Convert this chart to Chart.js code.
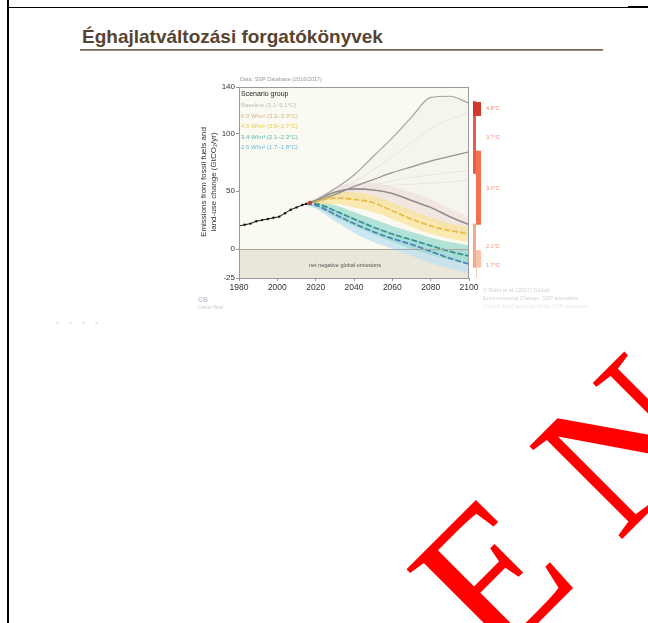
<!DOCTYPE html>
<html>
<head>
<meta charset="utf-8">
<script src="https://cdn.jsdelivr.net/npm/chart.js@4.4.1/dist/chart.umd.min.js"></script>
<style>
  body { margin: 0; width: 648px; height: 623px; overflow: hidden; background: #fff; position: relative; font-family: "Liberation Sans", Arial, sans-serif; }
  .ln { position: absolute; background: #000; }
  #title { position: absolute; left: 82px; top: 26px; font-size: 19px; font-weight: bold; color: #574430; white-space: nowrap; }
  #rule { position: absolute; left: 80px; top: 49px; width: 523px; height: 2px; background: linear-gradient(#6b5a48, #a89888); }
  #chart { position: absolute; left: 160px; top: 70px; }
  #dots { position: absolute; left: 56px; top: 318px; font-size: 8px; color: #e2e2e2; letter-spacing: 4px; }
  #wm { position: absolute; left: 0; top: 0; pointer-events: none; }
</style>
</head>
<body>
<div class="ln" style="left:7px;top:0;width:2px;height:623px"></div>
<div class="ln" style="left:7px;top:7px;width:621px;height:1px"></div>
<div class="ln" style="left:628px;top:6px;width:20px;height:2px"></div>
<div id="title">Éghajlatváltozási forgatókönyvek</div>
<div id="rule"></div>
<canvas id="chart" width="460" height="250"></canvas>
<div id="dots">• • • •</div>
<canvas id="wm" width="648" height="623"></canvas>
<script>
// data (GtCO2/yr)
const histYears = [1980, 1983, 1986, 1989, 1992, 1995, 1998, 2001, 2004, 2007, 2010, 2013, 2015];
const histValues = [20, 21, 22, 24, 25, 26, 27, 28, 31, 34, 36, 38, 39];

const scenYears = [2015, 2020, 2030, 2040, 2050, 2060, 2070, 2080, 2090, 2100];
const baseHigh = [39, 42, 52, 64, 80, 96, 114, 131, 132, 126];
const baseMid = [39, 41, 47, 54, 60, 66, 71, 76, 80, 84];
const baseThin1 = [39, 41, 49, 58, 68, 80, 92, 104, 112, 118];
const baseThin2 = [39, 41, 46, 51, 55, 59, 62, 64, 66, 68];
const baseThin3 = [39, 40, 45, 50, 53, 55, 56, 57, 58, 60];

const w60 = [39, 42, 49, 52, 51, 48, 42, 36, 28, 21];
const w60High = [40, 44, 53, 57, 57, 54, 49, 43, 35, 28];
const w60Low = [38, 40, 44, 44, 41, 36, 30, 24, 17, 12];

const w45 = [39, 41, 44, 43, 40, 33, 26, 20, 16, 13];
const w45High = [40, 43, 49, 49, 46, 40, 33, 27, 22, 19];
const w45Low = [38, 38, 39, 36, 32, 26, 19, 13, 9, 6];

const w34 = [39, 39, 33, 26, 19, 13, 8, 3, -2, -6];
const w34High = [40, 41, 38, 32, 26, 20, 15, 10, 6, 3];
const w34Low = [38, 36, 28, 20, 13, 6, 0, -5, -9, -12];

const w26 = [39, 38, 30, 22, 15, 9, 4, -2, -8, -13];
const w26High = [40, 40, 34, 27, 20, 14, 9, 4, 0, -3];
const w26Low = [38, 35, 24, 14, 6, 0, -6, -12, -17, -21];

const nowYear = [2017];
const nowValue = [40];

const xTicks = [1980, 2000, 2020, 2040, 2060, 2080, 2100];
const yTicks = [-25, 0, 50, 100, 140];

const groupNames = ['Baseline (3.1–5.1°C)', '6.0 W/m² (3.2–3.3°C)', '4.5 W/m² (2.5–2.7°C)', '3.4 W/m² (2.1–2.3°C)', '2.6 W/m² (1.7–1.8°C)'];

// 2100 ranges shown as bars right of the plot
const rangeLow = [65, 115, 21, -16, -16];
const rangeHigh = [128, 127, 85, 22, -1];
const rangeLabels = ['4.8°C', '3.7°C', '3.0°C', '2.1°C', '1.7°C'];
const rangeLabelAt = [122, 97, 53, 3, -14];

// styles
const groupColors = ['#bcbcbc', '#cdb483', '#e6c84a', '#52b5a5', '#68b2d8'];
const rangeColors = ['#ec5d45', '#d2392c', '#f2714f', '#f7a98b', '#f9c3a8'];
const rangeCols = [[473, 476], [473, 481], [476, 481], [473, 476], [476, 481]];

function pts(xs, ys) {
  return xs.map((x, i) => ({ x: x, y: ys[i] }));
}

const datasets = [];
function band(upper, lower, color, order) {
  const li = datasets.length;
  datasets.push({ data: pts(scenYears, lower), borderWidth: 0, pointRadius: 0, fill: false, order: order, cubicInterpolationMode: 'monotone' });
  datasets.push({ data: pts(scenYears, upper), borderWidth: 0, pointRadius: 0, backgroundColor: color, fill: { target: li }, order: order, cubicInterpolationMode: 'monotone' });
}
function line(vals, color, width, dash, order) {
  datasets.push({ data: pts(scenYears, vals), borderColor: color, borderWidth: width, borderDash: dash, pointRadius: 0, fill: false, order: order, cubicInterpolationMode: 'monotone' });
}

band(baseHigh, w60High, 'rgba(230,230,225,0.25)', 20);
line(baseThin1, '#dedede', 0.7, [], 19);
line(baseThin2, '#dedede', 0.7, [], 19);
line(baseThin3, '#dedede', 0.7, [], 19);
band(w60High, w60Low, 'rgba(236,222,216,0.7)', 18);
band(w26High, w26Low, 'rgba(190,224,242,0.75)', 17);
band(w34High, w34Low, 'rgba(155,218,206,0.75)', 16);
band(w45High, w45Low, 'rgba(249,226,150,0.7)', 15);
line(baseHigh, '#a4a4a4', 1.2, [], 3);
line(baseMid, '#929292', 1.2, [], 3);
line(w60, '#8e8e8e', 1.6, [], 2);
line(w45, '#e8bc48', 1.8, [6, 2], 2);
line(w26, '#4a82b8', 1.7, [6, 2], 2);
line(w34, '#368f8f', 1.7, [6, 2], 2);
datasets.push({ data: pts(histYears, histValues), borderColor: '#111', borderWidth: 1, pointRadius: 1.2, pointBackgroundColor: '#111', pointBorderWidth: 0, fill: false, order: 1 });
datasets.push({ data: pts(nowYear, nowValue), showLine: false, pointRadius: 2, pointBackgroundColor: '#c83a2e', pointBorderWidth: 0, order: 0 });

const decor = {
  id: 'decor',
  beforeDraw(chart) {
    const { ctx, chartArea: a, scales: { y } } = chart;
    const y0 = y.getPixelForValue(0);
    ctx.save();
    ctx.fillStyle = '#fbfaf2';
    ctx.fillRect(a.left, a.top, a.right - a.left, y0 - a.top);
    ctx.fillStyle = '#ebe6da';
    ctx.fillRect(a.left, y0, a.right - a.left, a.bottom - y0);
    ctx.fillStyle = '#555';
    ctx.font = '5.5px "Liberation Sans"';
    ctx.textAlign = 'center';
    ctx.fillText('net negative global emissions', a.left + 106, y.getPixelForValue(-14) + 2);
    ctx.restore();
  },
  afterDraw(chart) {
    const { ctx, chartArea: a, scales: { y } } = chart;
    ctx.save();
    // zero line and box
    ctx.strokeStyle = '#a8a8a0';
    ctx.lineWidth = 1;
    ctx.beginPath();
    ctx.moveTo(a.left, Math.round(y.getPixelForValue(0)) + 0.5);
    ctx.lineTo(a.right, Math.round(y.getPixelForValue(0)) + 0.5);
    ctx.stroke();
    ctx.strokeStyle = '#999';
    ctx.strokeRect(a.left + 0.5, a.top + 0.5, a.right - a.left - 1, a.bottom - a.top);

    // source line
    ctx.fillStyle = '#9a9a9a';
    ctx.font = '5.5px "Liberation Sans"';
    ctx.fillText('Data: SSP Database (2016/2017)', a.left + 1, a.top - 6);

    // legend
    ctx.fillStyle = '#222';
    ctx.font = '7px "Liberation Sans"';
    ctx.fillText('Scenario group', a.left + 2, a.top + 9);
    ctx.font = '6px "Liberation Sans"';
    groupNames.forEach((n, i) => {
      ctx.fillStyle = groupColors[i];
      ctx.fillText(n, a.left + 2, a.top + 20 + i * 10.5);
    });

    // 2100 range bars
    const off = 160;
    rangeLow.forEach((lo, i) => {
      const t = y.getPixelForValue(rangeHigh[i]);
      const b = y.getPixelForValue(lo);
      ctx.fillStyle = rangeColors[i];
      ctx.fillRect(rangeCols[i][0] - off, t, rangeCols[i][1] - rangeCols[i][0], b - t);
    });
    ctx.fillStyle = '#f7c8b8';
    ctx.fillRect(476 - off, y.getPixelForValue(-16), 1, a.bottom - y.getPixelForValue(-16));
    ctx.fillStyle = '#f29080';
    ctx.font = '5.5px "Liberation Sans"';
    rangeLabels.forEach((l, i) => {
      ctx.fillText(l, 486 - off, y.getPixelForValue(rangeLabelAt[i]) + 2);
    });

    // faint footnotes
    ctx.fillStyle = '#d2d2d2';
    ctx.font = '5.5px "Liberation Sans"';
    ctx.fillText('© Riahi et al. (2017) Global', 323, 222);
    ctx.fillText('Environmental Change, SSP scenarios', 323, 230);
    ctx.fillStyle = '#e8e8e8';
    ctx.fillText('Carbon Brief analysis of the SSP database', 323, 238);
    ctx.fillStyle = '#c4ccd4';
    ctx.font = 'bold 7px "Liberation Sans"';
    ctx.fillText('CB', 38, 232);
    ctx.fillStyle = '#cccccc';
    ctx.font = '4.5px "Liberation Sans"';
    ctx.fillText('Carbon Brief', 38, 239);

    // y axis title
    ctx.translate(48, 112);
    ctx.rotate(-Math.PI / 2);
    ctx.fillStyle = '#333';
    ctx.font = '8px "Liberation Sans"';
    ctx.textAlign = 'center';
    ctx.fillText('Emissions from fossil fuels and', 0, -2);
    ctx.fillText('land-use change (GtCO\u2082/yr)', 0, 8);
    ctx.restore();
  }
};

new Chart(document.getElementById('chart'), {
  type: 'line',
  data: { datasets: datasets },
  options: {
    responsive: false,
    animation: false,
    devicePixelRatio: 1,
    layout: { padding: { left: 49, top: 17, right: 151, bottom: 22 } },
    plugins: { legend: { display: false }, tooltip: { enabled: false }, filler: { propagate: false } },
    scales: {
      x: {
        type: 'linear', min: 1980, max: 2100,
        afterBuildTicks: s => { s.ticks = xTicks.map(v => ({ value: v })); },
        afterFit: s => { s.height = 20; },
        ticks: { font: { size: 8.5, family: 'Liberation Sans' }, color: '#333', maxRotation: 0, autoSkip: false, padding: 2, callback: v => String(v) },
        grid: { display: true, drawOnChartArea: false, tickLength: 3, color: '#999' },
        border: { color: '#999' }
      },
      y: {
        type: 'linear', min: -25, max: 140,
        afterBuildTicks: s => { s.ticks = yTicks.map(v => ({ value: v })); },
        afterFit: s => { s.width = 30; },
        ticks: { font: { size: 8, family: 'Liberation Sans' }, color: '#333', autoSkip: false, padding: 1, callback: v => String(v) },
        grid: { display: true, drawOnChartArea: false, tickLength: 3, color: '#999' },
        border: { color: '#999' }
      }
    }
  },
  plugins: [decor]
});

// red watermark letters
const wm = document.getElementById('wm').getContext('2d');
wm.fillStyle = '#ff0000';
wm.font = '200px "Liberation Serif"';
wm.translate(495, 666);
wm.rotate(-Math.PI / 4);
wm.fillText('E', 0, 0);
wm.fillText('N', 174, 0);
</script>
</body>
</html>
